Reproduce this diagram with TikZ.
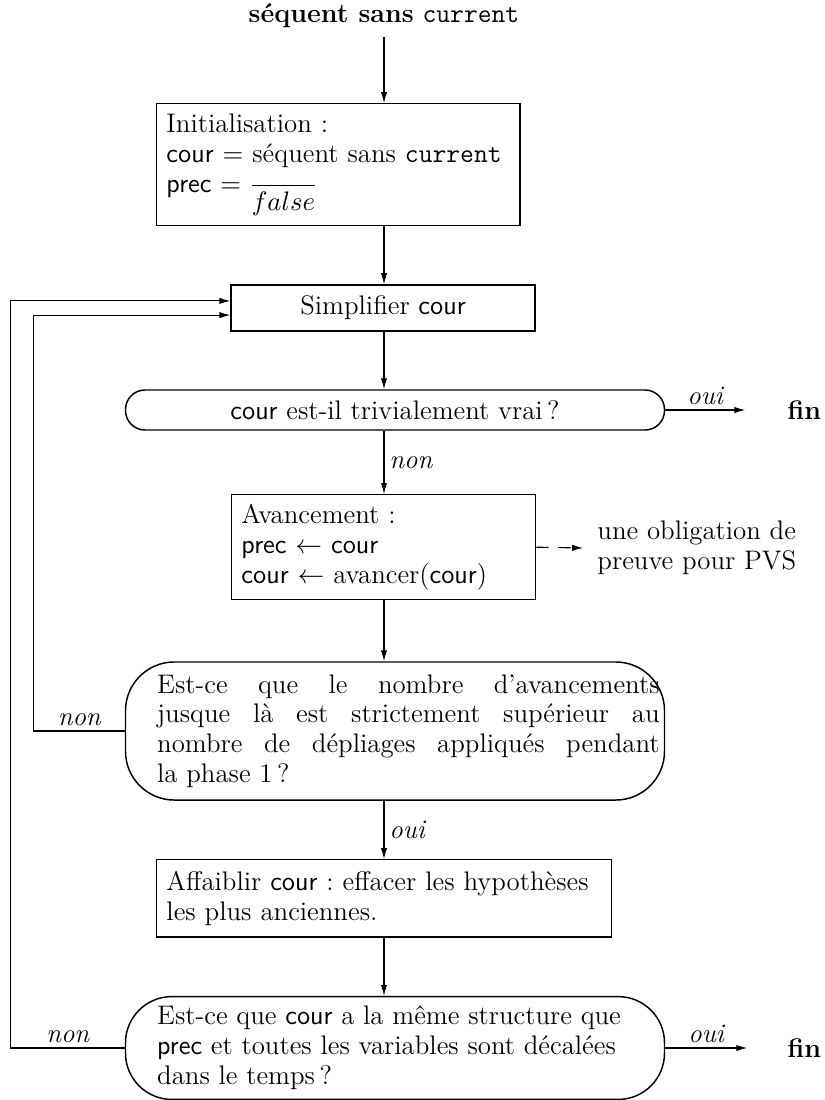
\documentclass[tikz,border=0pt]{standalone}
\usepackage{amsmath,amssymb}
\usetikzlibrary{arrows.meta,positioning,calc}
\tikzset{
  etape/.style={draw, line width=0.6pt, inner sep=4pt, align=left},
  test/.style={draw, line width=0.6pt, inner sep=4pt},
  fleche/.style={-{Latex[length=4.5pt,width=2.6pt]}, line width=0.45pt},
  etiq/.style={font=\itshape, inner sep=2pt},
  sortie/.style={font=\bfseries, anchor=east, inner sep=1pt},
}

\begin{document}
\fontsize{11}{12.2}\selectfont\frenchspacing
\begin{tikzpicture}[x=0.41pt,y=-0.41pt]
    \useasboundingbox (0,0) rectangle (825,1100);
    \coordinate (axe) at (384,0);
    \node (titre) at (384,16) {\textbf{séquent sans} \texttt{current}};
    \node[etape, text width=141pt, minimum height=50pt, anchor=north west] (init) at (156,103)
      {Initialisation :\\ \textsf{cour} $=$ séquent sans \texttt{current}\\ \textsf{prec} $=\displaystyle\frac{}{false}$};
    \node[etape, align=center, minimum width=124.6pt, minimum height=18.9pt] (simp) at (383,308) {Simplifier \textsf{cour}};
    \node[test, rounded corners=8pt, minimum width=221pt, minimum height=16.4pt] (q1) at (395,410)
      {\textsf{cour} est-il trivialement vrai\,?};
    \node[sortie] (fin1) at (824,410) {fin};
    \node[etape, text width=116.6pt, minimum height=43pt, anchor=north west] (avan) at (231,494)
      {Avancement :\\ \textsf{prec} $\leftarrow$ \textsf{cour}\\ \textsf{cour} $\leftarrow$ avancer(\textsf{cour})};
    \node[align=left, anchor=west] (oblig) at (588,548) {une obligation de\\ preuve pour PVS};
    \node[test, inner xsep=0pt, rounded corners=20pt, minimum width=221pt, minimum height=56.6pt] (q2) at (395,731)
      {\hspace*{11pt}\parbox{206pt}{Est-ce que le nombre d'avancements\linebreak jusque là est strictement supérieur au\linebreak nombre de dépliages appliqués pendant\linebreak la phase 1\,?}};
    \node[etape, text width=178.5pt, minimum height=31.6pt, anchor=north west] (aff) at (156,859)
      {Affaiblir \textsf{cour} : effacer les hypothèses\\ les plus anciennes.};
    \node[test, inner xsep=0pt, rounded corners=19pt, minimum width=221pt, minimum height=39.4pt] (q3) at (395,1048)
      {\hspace*{11pt}\parbox{206pt}{\raggedright Est-ce que \textsf{cour} a la même structure que\\ \textsf{prec} et toutes les variables sont décalées\\ dans le temps\,?}};
    \node[sortie] (fin2) at (824,1048) {fin};
    % flot principal
    \draw[fleche] (titre.south) -- (init.north -| axe);
    \draw[fleche] (init.south -| axe) -- (simp.north -| axe);
    \draw[fleche] (simp.south -| axe) -- (q1.north -| axe);
    \draw[fleche] (q1.south -| axe) -- node[right, etiq] {non} (avan.north -| axe);
    \draw[fleche] (avan.south -| axe) -- (q2.north -| axe);
    \draw[fleche] (q2.south -| axe) -- node[right, etiq] {oui} (aff.north -| axe);
    \draw[fleche] (aff.south -| axe) -- (q3.north -| axe);
    \draw[fleche] (q1.east) -- node[above, etiq] {oui} ++(80,0);
    \draw[fleche] (q3.east) -- node[above, etiq] {oui} ++(82,0);
    \draw[fleche, dash pattern=on 5pt off 4pt] (avan.east) -- ([xshift=-2pt]oblig.west);
    % retours
    \draw[fleche] (q2.west) -- node[above, etiq] {non} ++(-91,0) |- ([yshift=-2.9pt]simp.west);
    \draw[fleche] (q3.west) -- node[above, etiq] {non} ++(-114,0) |- ([yshift=2.9pt]simp.west);
\end{tikzpicture}
\end{document}
